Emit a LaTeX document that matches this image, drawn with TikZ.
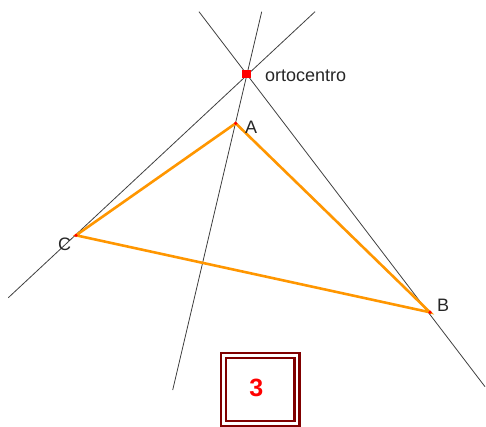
\documentclass[tikz,border=0pt]{standalone}
\usepackage{fontspec}
\setmainfont{Liberation Sans}
\usetikzlibrary{positioning}
\definecolor{ladocol}{RGB}{255,150,0}
\definecolor{marcocol}{RGB}{128,0,0}
\begin{document}
\begin{tikzpicture}[
  x=1pt, y=-1pt,
  recta/.style={draw=black!75, line width=0.8pt},
  lado/.style={draw=ladocol, line width=2.6pt, line cap=round},
  punto/.style={circle, fill=red, inner sep=0pt, minimum size=3.6pt},
  etiq/.style={font=\fontsize{18}{18}\selectfont, text=black!85, inner sep=0pt, anchor=base west},
  marco/.style={rectangle, draw=marcocol, double=white, line width=2.3pt, double distance=2.7pt,
                minimum width=73.4pt, minimum height=67.7pt, inner sep=0pt}
]
  \useasboundingbox (0,0) rectangle (486,426);
  % vertices
  \coordinate (A) at (235.7,123.3);
  \coordinate (B) at (430,312.3);
  \coordinate (C) at (76,235.3);
  % extremos de las alturas
  \coordinate (hc1) at (8.3,297.7);
  \coordinate (hc2) at (315,11.7);
  \coordinate (hb1) at (199,11.7);
  \coordinate (hb2) at (485,386.7);
  \coordinate (ha1) at (261.7,11.7);
  \coordinate (ha2) at (172.7,390);
  % alturas
  \draw[recta] (hc1) -- (hc2);
  \draw[recta] (hb1) -- (hb2);
  \draw[recta] (ha1) -- (ha2);
  % triangulo
  \draw[lado] (A) -- (B) -- (C) -- cycle;
  \node[punto] (pa) at (A) {};
  \node[punto] (pb) at (B) {};
  \node[punto] (pc) at (C) {};
  \node[rectangle, fill=red, inner sep=0pt, minimum size=8.6pt] (orto) at (246.7,73.8) {};
  % etiquetas
  \node[etiq] (la) at (245,133.3) {A};
  \node[etiq] (lb) at (437,311.7) {B};
  \node[etiq] (lc) at (58,250) {C};
  \node[etiq] (lorto) at (265,81.7) {ortocentro};
  % recuadro
  \node[marco] (caja) at (260.3,389.5) {};
  \node[text=red, font=\bfseries\fontsize{25}{25}\selectfont, inner sep=0pt] (num) at (256.2,388) {3};
\end{tikzpicture}
\end{document}
